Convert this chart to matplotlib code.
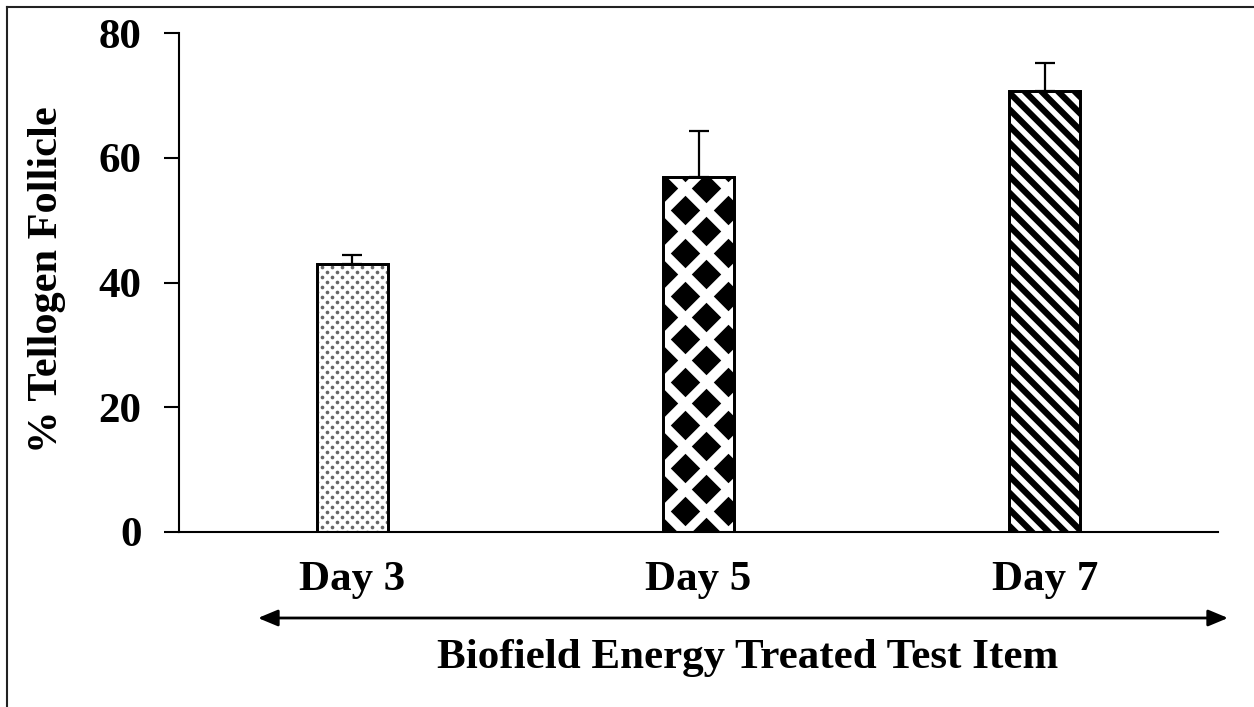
import numpy as np
import matplotlib
matplotlib.use("Agg")
import matplotlib.pyplot as plt
from matplotlib.transforms import IdentityTransform

# Data
days = ["Day 3", "Day 5", "Day 7"]
tellogen_pct = [43.0, 56.9, 70.7]
tellogen_err = [1.4, 7.4, 4.5]
y_ticks = [0, 20, 40, 60, 80]

plt.rcParams["font.family"] = ["Liberation Serif", "DejaVu Serif"]
plt.rcParams["font.weight"] = "bold"

W, H = 1254, 707
fig = plt.figure(figsize=(W / 100, H / 100), dpi=100)
ax = fig.add_axes([179 / W, 1 - 532 / H, (1218 - 179) / W, (532 - 33) / H])

x = np.arange(len(days))
ax.set_xlim(-0.5, 2.5)
ax.set_ylim(0, 80)

bar_width = 0.205


def fill_pattern(bar, marker, step, size, color):
    # cover the bar with a staggered grid of markers, clipped to the bar
    bb = bar.get_window_extent()
    pts = []
    row = 0
    yy = bb.y0
    while yy <= bb.y1 + step:
        off = step / 2 if row % 2 else 0
        xx = bb.x0 + off
        while xx <= bb.x1 + step:
            pts.append((xx, yy))
            xx += step
        yy += step / 2
        row += 1
    pts = np.array(pts)
    sc = ax.scatter(pts[:, 0], pts[:, 1], marker=marker, s=size, c=color,
                    linewidths=0, transform=IdentityTransform(), zorder=2)
    sc.set_clip_path(bar)


# Day 3: fine grey dots
b3 = ax.bar(x[0], tellogen_pct[0], bar_width, color="white",
            edgecolor="black", linewidth=2, zorder=1)[0]
fill_pattern(b3, "o", 10, 7, "#666666")

# Day 5: black diamonds
b5 = ax.bar(x[1], tellogen_pct[1], bar_width, color="white",
            edgecolor="black", linewidth=2, zorder=1)[0]
fill_pattern(b5, "D", 43, 225, "black")

# Day 7: thick diagonal stripes
with plt.rc_context({"hatch.linewidth": 4.5, "hatch.color": "black"}):
    b7 = ax.bar(x[2], tellogen_pct[2], bar_width, color="white",
                edgecolor="black", hatch="\\\\", linewidth=2, zorder=1)[0]

# outlines on top of the patterns
ax.bar(x, tellogen_pct, bar_width, color="none", edgecolor="black",
       linewidth=2, zorder=3)

ax.errorbar(x, tellogen_pct, yerr=[np.zeros(len(x)), tellogen_err],
            fmt="none", ecolor="black", elinewidth=1.6, capsize=7,
            capthick=1.6, zorder=4)

ax.spines["top"].set_visible(False)
ax.spines["right"].set_visible(False)
ax.spines["left"].set_linewidth(1.5)
ax.spines["bottom"].set_linewidth(1.5)

ax.set_yticks(y_ticks)
ax.tick_params(axis="y", direction="out", length=11, width=1.5,
               labelsize=31, pad=16)
ax.set_xticks(x)
ax.set_xticklabels(days)
ax.tick_params(axis="x", length=0, labelsize=31, pad=21)
for lab in ax.get_xticklabels() + ax.get_yticklabels():
    lab.set_fontweight("bold")

fig.text(47 / W, 1 - 280 / H, "% Tellogen Follicle", rotation=90,
         ha="center", va="center", fontsize=30.5, fontweight="bold")

# double-headed arrow under the categories
ax.annotate("", xy=(1228, H - 618), xytext=(258, H - 618),
            xycoords="figure pixels", textcoords="figure pixels",
            arrowprops=dict(arrowstyle="<|-|>,head_length=1.2,head_width=0.5",
                            color="black", lw=2, shrinkA=0, shrinkB=0))
fig.text(748 / W, 1 - 658 / H, "Biofield Energy Treated Test Item",
         ha="center", va="center", fontsize=31, fontweight="bold")

# frame lines on left and top of the image
fig.add_artist(plt.Line2D([7 / W, 7 / W], [0, 1 - 7 / H],
                          transform=fig.transFigure, color="#222222", lw=1.5))
fig.add_artist(plt.Line2D([7 / W, 1], [1 - 7 / H, 1 - 7 / H],
                          transform=fig.transFigure, color="#222222", lw=1.5))

fig.savefig("out.png", dpi=100)
